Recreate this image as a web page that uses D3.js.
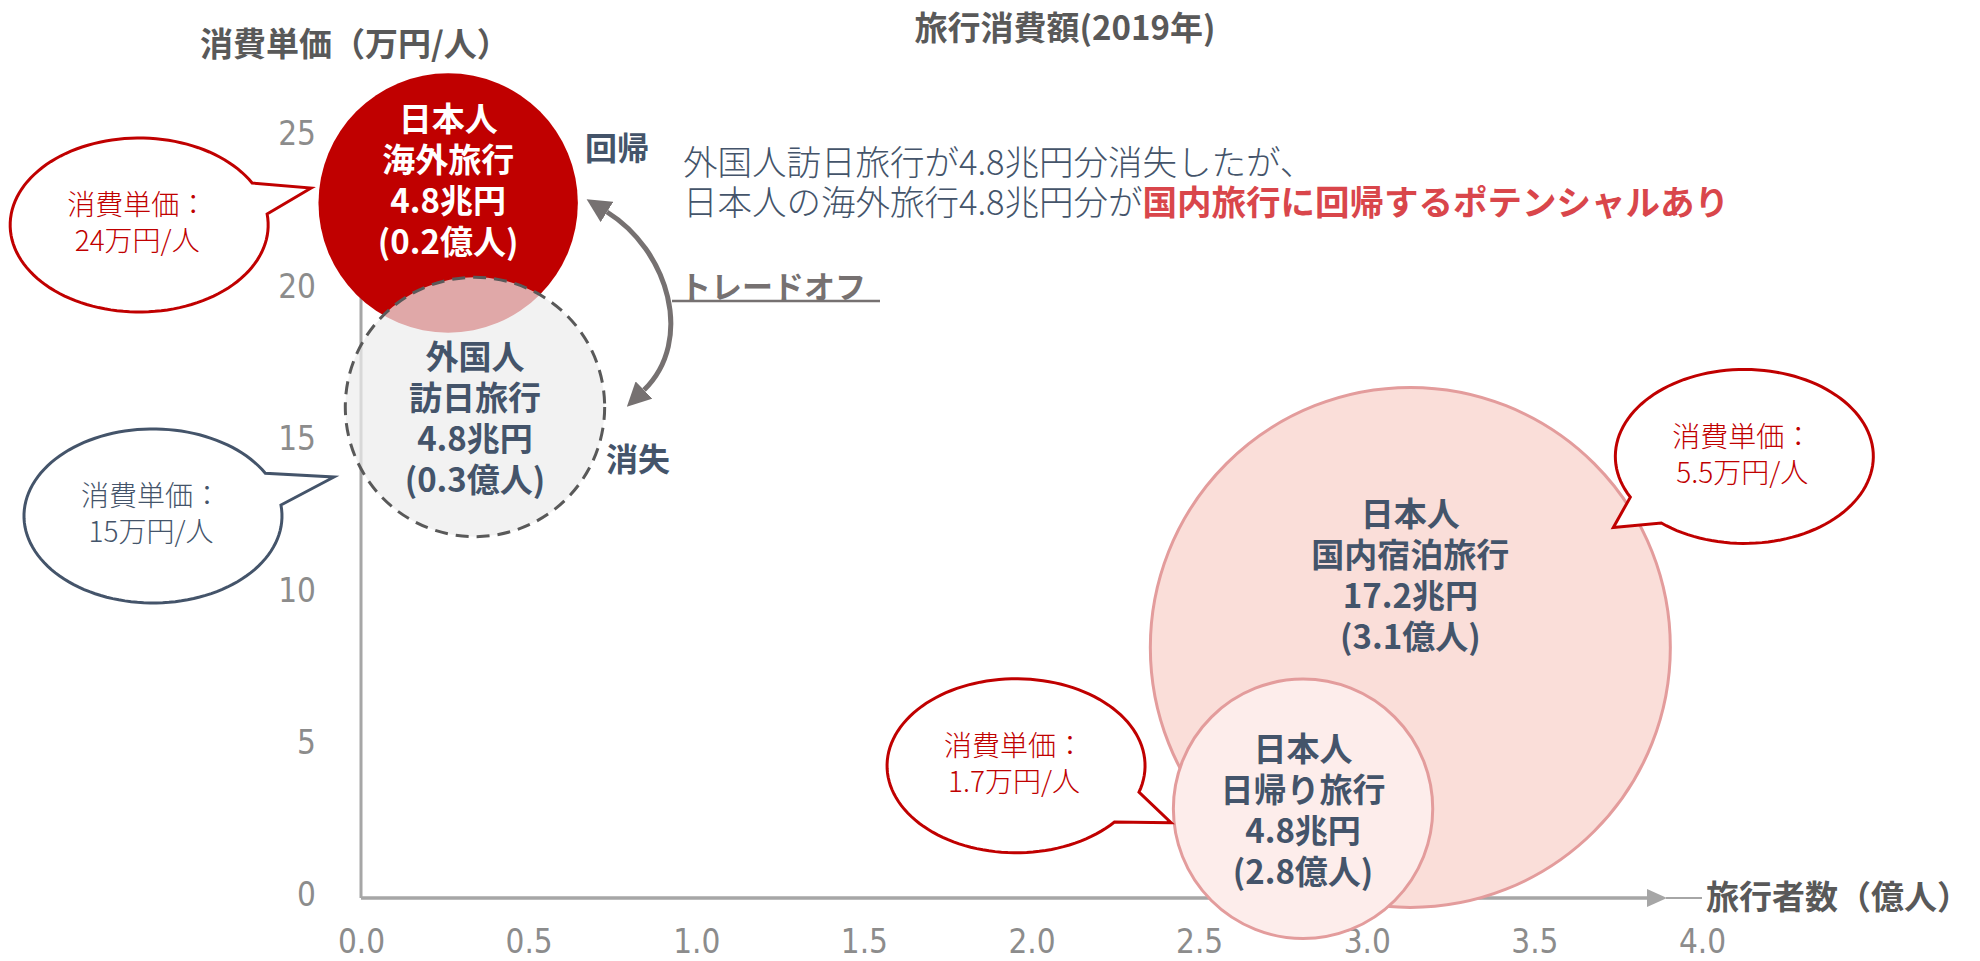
<!DOCTYPE html>
<html>
<head>
<meta charset="utf-8">
<script src="https://cdn.jsdelivr.net/npm/d3@7"></script>
<style>
  body { margin: 0; background: #fff; }
  svg { display: block; font-family: "Noto Sans CJK JP", "Noto Sans", sans-serif; }
  .axis .tick text { font-family: "Liberation Sans Narrow", "DejaVu Sans Condensed", sans-serif; fill: #8c8c8c; font-size: 33px; }
</style>
</head>
<body>
<div id="chart"></div>
<script>
// 旅行消費額(2019年)
var groups     = ["日本人", "外国人", "日本人", "日本人"];
var segments   = ["海外旅行", "訪日旅行", "国内宿泊旅行", "日帰り旅行"];
var amounts    = [4.8, 4.8, 17.2, 4.8];   // 兆円
var travelers  = [0.2, 0.3, 3.1, 2.8];    // 億人
var unitPrices = [24, 15, 5.5, 1.7];      // 万円/人
// where each bubble sits in the picture, in axis units
var bubbleX = [0.26, 0.34, 3.13, 2.81];
var bubbleY = [22.7, 16.0, 8.1, 2.8];
var xTicks = [0, 0.5, 1, 1.5, 2, 2.5, 3, 3.5, 4];
var yTicks = [0, 5, 10, 15, 20, 25];

var width = 1980, height = 961;

// looks
var fills     = ["#C00000", "#EDEDED", "#FADED9", "#FDEDEB"];
var fillOp    = [1, 0.71, 1, 1];
var strokes   = ["none", "#595959", "#E39C9C", "#E39C9C"];
var dashes    = [null, "13,8", null, null];
var textCols  = ["#ffffff", "#44546A", "#44546A", "#44546A"];
var labelDy   = [-22, 12, -72, 2];
var calloutCol = ["#C00000", "#44546A", "#C00000", "#C00000"];
// callout balloons, offsets from the bubble centre
var callouts = [
  {c: [-309, 22],  b1: [-196, -20], tip: [-137, -15], b2: [-181, 11]},
  {c: [-322, 109], b1: [-209, 66],  tip: [-141, 70],  b2: [-193, 98]},
  {c: [334, -191], b1: [222, -151], tip: [203, -120], b2: [253, -126]},
  {c: [-287, -43], b1: [-166, -17], tip: [-132, 14],  b2: [-189, 13]}
];

var svg = d3.select("#chart").append("svg")
    .attr("width", width)
    .attr("height", height);

var x = d3.scaleLinear().domain([0, 4]).range([361, 1702]),
    y = d3.scaleLinear().domain([0, 25]).range([894, 133]),
    r = d3.scalePow().exponent(0.545).domain([0, 17.2]).range([0, 260]);

var axisY = y(0) + 4;

// axis lines
svg.append("line")
    .attr("x1", x(0)).attr("x2", x(0))
    .attr("y1", axisY).attr("y2", y(25))
    .attr("stroke", "#A6A6A6").attr("stroke-width", 3);
svg.append("line")
    .attr("x1", x(0)).attr("x2", 1650)
    .attr("y1", axisY).attr("y2", axisY)
    .attr("stroke", "#A6A6A6").attr("stroke-width", 3.5);
svg.append("path")
    .attr("d", "M1647," + (axisY - 9) + "L1667," + axisY + "L1647," + (axisY + 9) + "Z")
    .attr("fill", "#A6A6A6");
svg.append("line")
    .attr("x1", 1666).attr("x2", 1702)
    .attr("y1", axisY).attr("y2", axisY)
    .attr("stroke", "#A6A6A6").attr("stroke-width", 2);

var yAxis = d3.axisLeft(y).tickValues(yTicks).tickSize(0).tickPadding(45);
var gy = svg.append("g").attr("class", "axis")
    .attr("transform", "translate(" + x(0) + ",0)")
    .call(yAxis);
gy.select(".domain").remove();
gy.selectAll("text").attr("dy", "0.36em");

var xAxis = d3.axisBottom(x).tickValues(xTicks).tickSize(0).tickFormat(d3.format(".1f"));
var gx = svg.append("g").attr("class", "axis")
    .attr("transform", "translate(0," + axisY + ")")
    .call(xAxis);
gx.select(".domain").remove();
gx.selectAll("text").attr("y", 43).attr("dy", "0.36em");

// titles
svg.append("text")
    .attr("x", 1065).attr("y", 26)
    .attr("text-anchor", "middle").attr("dominant-baseline", "central")
    .attr("font-size", 33).attr("font-weight", "bold").attr("fill", "#595959")
    .text("旅行消費額(2019年)");
svg.append("text")
    .attr("x", 200).attr("y", 42)
    .attr("dominant-baseline", "central")
    .attr("font-size", 33).attr("font-weight", "bold").attr("fill", "#595959")
    .text("消費単価（万円/人）");
svg.append("text")
    .attr("x", 1706).attr("y", 895)
    .attr("dominant-baseline", "central")
    .attr("font-size", 33).attr("font-weight", "bold").attr("fill", "#595959")
    .text("旅行者数（億人）");

// bubbles
amounts.forEach(function(a, i) {
  var cx = x(bubbleX[i]), cy = y(bubbleY[i]);
  var c = svg.append("circle")
      .attr("cx", cx).attr("cy", cy).attr("r", r(a))
      .attr("fill", fills[i]).attr("fill-opacity", fillOp[i])
      .attr("stroke", strokes[i]).attr("stroke-width", 3);
  if (dashes[i]) c.attr("stroke-dasharray", dashes[i]);

  var lines = [groups[i], segments[i], a + "兆円", "(" + travelers[i] + "億人)"];
  var t = svg.append("text")
      .attr("text-anchor", "middle")
      .attr("font-size", 33).attr("font-weight", "bold")
      .attr("fill", textCols[i]);
  lines.forEach(function(s, k) {
    t.append("tspan")
        .attr("x", cx)
        .attr("y", cy + labelDy[i] + (k - 1.5) * 41)
        .attr("dy", "0.36em")
        .text(s);
  });
});

// callout balloons
function balloon(cx, cy, rx, ry, b1, tip, b2) {
  var t1 = Math.atan2((b1[1] - cy) / ry, (b1[0] - cx) / rx);
  var t2 = Math.atan2((b2[1] - cy) / ry, (b2[0] - cx) / rx);
  var d = ((t1 - t2) % (2 * Math.PI) + 2 * Math.PI) % (2 * Math.PI);
  if (d < Math.PI) d -= 2 * Math.PI;
  var pts = [tip];
  for (var k = 0; k <= 120; k++) {
    var t = t2 + d * k / 120;
    pts.push([cx + rx * Math.cos(t), cy + ry * Math.sin(t)]);
  }
  return d3.line()(pts) + "Z";
}

callouts.forEach(function(co, i) {
  var bx = x(bubbleX[i]), by = y(bubbleY[i]);
  var ex = bx + co.c[0], ey = by + co.c[1];
  svg.append("path")
      .attr("d", balloon(ex, ey, 129, 87,
          [bx + co.b1[0], by + co.b1[1]],
          [bx + co.tip[0], by + co.tip[1]],
          [bx + co.b2[0], by + co.b2[1]]))
      .attr("fill", "#fff")
      .attr("stroke", calloutCol[i]).attr("stroke-width", 3)
      .attr("stroke-linejoin", "miter");
  var t = svg.append("text")
      .attr("text-anchor", "middle")
      .attr("font-size", 28).attr("font-weight", 300)
      .attr("fill", calloutCol[i]);
  ["消費単価：", unitPrices[i] + "万円/人"].forEach(function(s, k) {
    t.append("tspan")
        .attr("x", ex - 2)
        .attr("y", ey - 2 + (k - 0.5) * 36)
        .attr("dy", "0.36em")
        .text(s);
  });
});

// trade-off arrow and notes
var defs = svg.append("defs");
defs.append("marker")
    .attr("id", "head")
    .attr("viewBox", "0 0 10 10")
    .attr("refX", 0).attr("refY", 5)
    .attr("markerWidth", 24).attr("markerHeight", 24)
    .attr("markerUnits", "userSpaceOnUse")
    .attr("orient", "auto-start-reverse")
  .append("path")
    .attr("d", "M0,0L10,5L0,10Z")
    .attr("fill", "#767171");

svg.append("path")
    .attr("d", "M607,212C668,250 695,340 644,390")
    .attr("fill", "none")
    .attr("stroke", "#767171").attr("stroke-width", 5)
    .attr("marker-start", "url(#head)")
    .attr("marker-end", "url(#head)");

svg.append("text")
    .attr("x", 585).attr("y", 146)
    .attr("dominant-baseline", "central")
    .attr("font-size", 32).attr("font-weight", "bold").attr("fill", "#44546A")
    .text("回帰");
svg.append("text")
    .attr("x", 606).attr("y", 457)
    .attr("dominant-baseline", "central")
    .attr("font-size", 32).attr("font-weight", "bold").attr("fill", "#44546A")
    .text("消失");

svg.append("text")
    .attr("x", 680).attr("y", 284)
    .attr("dominant-baseline", "central")
    .attr("font-size", 31).attr("font-weight", "bold").attr("fill", "#767171")
    .text("トレードオフ");
svg.append("line")
    .attr("x1", 672).attr("x2", 880)
    .attr("y1", 301).attr("y2", 301)
    .attr("stroke", "#767171").attr("stroke-width", 2.5);

var note = svg.append("text")
    .attr("font-size", 34.5).attr("font-weight", 300).attr("fill", "#44546A");
note.append("tspan")
    .attr("x", 683).attr("y", 163).attr("dy", "0.36em")
    .text("外国人訪日旅行が4.8兆円分消失したが、");
note.append("tspan")
    .attr("x", 683).attr("y", 203).attr("dy", "0.36em")
    .text("日本人の海外旅行4.8兆円分が");
note.append("tspan")
    .attr("font-weight", "bold").attr("fill", "#D9464B")
    .text("国内旅行に回帰するポテンシャルあり");
</script>
</body>
</html>
